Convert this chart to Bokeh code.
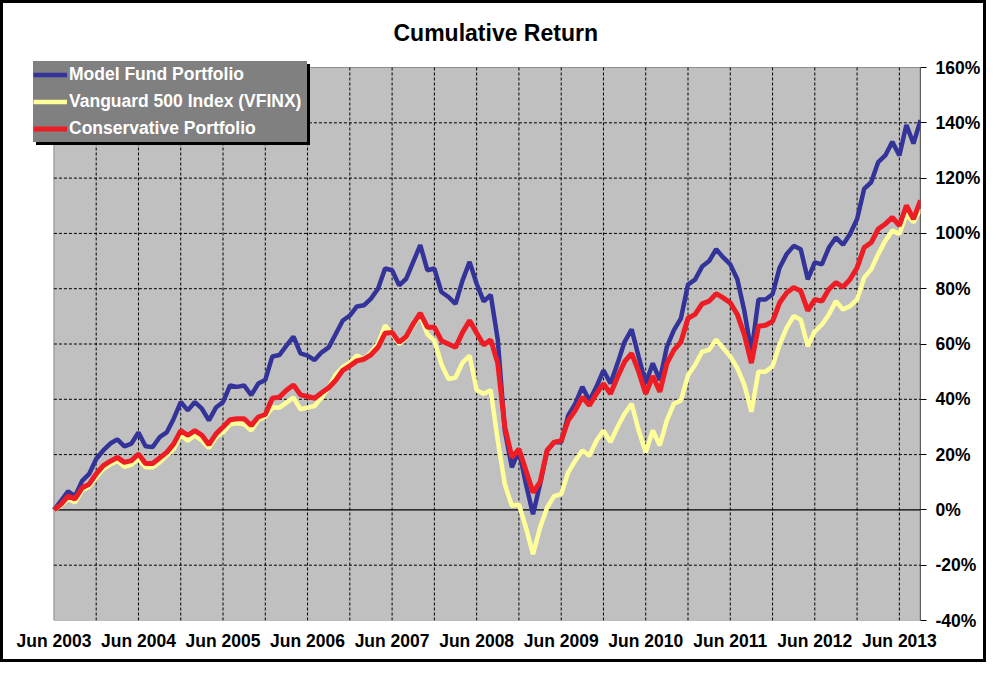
from bokeh.plotting import figure
from bokeh.models import Range1d, FixedTicker, PrintfTickFormatter, Legend, LegendItem
from bokeh.embed import file_html
from bokeh.resources import INLINE

# monthly cumulative return (%), Jun 2003 .. Sep 2013
MODEL = [0, 3.3, 6.7, 5, 10.5, 13, 18.4, 21.5, 24, 25.5, 23, 24, 28, 23, 22.7, 26.3,
         28, 33, 39, 36, 39, 36.6, 32.4, 37, 39, 45, 44.5, 45, 41.5, 45.7, 47,
         55.5, 56, 59.4, 62.7, 56.6, 55.8, 54.2, 57, 58.8, 63.6, 68.5, 70.3, 73.6, 74,
         76.4, 80, 87.3, 86.7, 81.2, 83.6, 89.7, 95.8, 86.7, 87.3, 78.8, 77, 74.5, 83, 89.7,
         81.8, 75.4, 77.8, 61.5, 28.7, 15.4, 21.5, 9.3, -1.6, 9.3, 21.5, 24.5, 24.5, 34.2,
         38.4, 44.5, 39.6, 44.5, 50.5, 45.7, 53, 60.8, 65.3, 55.4, 45.7, 53, 46.9, 59, 65,
         69.3, 81.5, 83.3, 88,
         90, 94.3, 91.3, 88.8, 83.4, 71.9, 57, 76.1, 76.1, 78, 87.6, 92.5, 95.5, 94.3, 83.4,
         89.5, 88.8, 94.9, 98.5, 95.9, 99.8, 105.2, 116.1, 118.5, 125.8, 128.2, 133.1, 128.2,
         139.2, 132.5, 141]
VFINX = [0, 1.5, 4, 2.7, 7, 8.4, 11.8, 14.8, 16.4, 17.8, 15.6, 16.4, 18.4, 15.4, 15.4, 17.2,
         19.6, 22, 27, 25, 27, 25, 22.4, 26.3, 28, 31, 31.4, 31, 28.7, 32.4, 33.6,
         37, 37, 38.8, 40.6, 36.4, 37, 37.6, 40.6, 44.2, 49, 51.7, 53.3, 55.8, 54.5, 57, 60,
         66.7, 63.6, 60, 62.4, 66.7, 70.3, 63.6, 61.2, 52.7, 47.3, 47.9, 53.3, 55.8,
         43.3, 42, 43.3, 25, 9.3, 1.5, 2, -6.4, -16, -6.4, 0.8, 5, 5.7, 13.6, 17.8, 21.5,
         19.6, 25, 28.7, 24.5, 30, 34.8, 38.4, 28.7, 20.8, 28.7, 23.3, 32.4, 38.4, 39.6,
         48.7, 52.4, 57.2,
         57.9, 61.6, 58.5, 55.5, 51.3, 45.2, 35.5, 50, 50, 51.9, 59.8, 65.8, 70.1, 68.8,
         59.2, 64.6, 67, 70.7, 75.5, 72.5, 73.7, 76.1, 84, 87, 92.5, 97.3, 101, 99.8, 107,
         104, 108.8]
CONSERVATIVE = [0, 2, 5, 4, 8, 9.3, 13, 16, 17.6, 19, 17.2, 17.8, 20.2, 16.8, 16.8, 18.8,
                20.8, 23.9, 28.7, 27, 28.7, 27, 23.6, 27.5, 30, 32.6, 33, 33, 30.5, 33.6, 34.5,
                40.4, 40.8, 43.3, 45.2, 41.6, 41, 40.4, 42.4, 44.2, 46.9, 50.5, 52.1, 53.9,
                54.5, 56.1, 58.8, 63.9, 64.2, 60.6, 62.7, 67.3, 71.2, 66.1, 66.1, 61.2, 60,
                58.8, 64.2, 68.5,
                64, 59.6, 61.5, 53, 30, 19, 22, 14.2, 6.3, 10, 21.5, 24.5, 25, 32.4, 36, 40.8,
                37.8, 42, 45.7, 42, 48.1, 53.6, 56.6, 50, 42, 48.4, 42.7, 53, 57.8, 60.8, 69.3,
                70.7, 74.5,
                75.5, 78.2, 76.7, 74.9, 70.7, 63.4, 53.1, 66.4, 66.8, 68.2, 74.9, 78.5, 80.4,
                79.2, 72.1, 76.1, 75.5, 79.8, 82.2, 80.6, 83.4, 87.6, 94.9, 96.7, 101.6, 103.4,
                105.8, 102.8, 110.1, 105.2, 111.9]

TICK_LABELS = ["Jun 2003", "Jun 2004", "Jun 2005", "Jun 2006", "Jun 2007", "Jun 2008",
               "Jun 2009", "Jun 2010", "Jun 2011", "Jun 2012", "Jun 2013"]
Y_TICKS = [-40, -20, 0, 20, 40, 60, 80, 100, 120, 140, 160]

FONT = "Liberation Sans"
months = list(range(len(MODEL)))
last = len(MODEL) - 1
ymin, ymax = Y_TICKS[0], Y_TICKS[-1]

# the frame is a bit wider/taller than the grey plot area so the legend
# can hang over its top-left corner like in the original
p = figure(
    frame_width=887, frame_height=561,
    min_border_left=30, min_border_right=61, min_border_top=56, min_border_bottom=39,
    x_range=Range1d(-2.9, last), y_range=Range1d(ymin, 162.9),
    y_axis_location="right",
    title="Cumulative Return",
    output_backend="svg", toolbar_location=None,
    background_fill_color="white", border_fill_color="white",
    styles={"border": "3px solid black"},
)
p.outline_line_color = None
p.grid.visible = False

p.title.align = "left"
p.title.offset = 360
p.title.vertical_align = "middle"
p.title.standoff = 26
p.title.text_font = FONT
p.title.text_font_size = "23px"
p.title.text_font_style = "bold"
p.title.text_color = "black"

# axes
p.xaxis.ticker = FixedTicker(ticks=list(range(0, 121, 12)))
p.xaxis.major_label_overrides = {i * 12: lab for i, lab in enumerate(TICK_LABELS)}
p.xaxis.axis_line_color = None
p.xaxis.major_tick_line_color = None
p.xaxis.major_tick_out = 0
p.xaxis.minor_tick_line_color = None
p.xaxis.major_label_standoff = 10

p.yaxis.ticker = FixedTicker(ticks=Y_TICKS)
p.yaxis.formatter = PrintfTickFormatter(format="%d%%")
p.yaxis.axis_line_color = None
p.yaxis.major_tick_line_color = "black"
p.yaxis.major_tick_out = 6
p.yaxis.major_tick_in = 0
p.yaxis.minor_tick_line_color = None
p.yaxis.major_label_standoff = 9

for ax in (p.xaxis, p.yaxis):
    ax.major_label_text_font = FONT
    ax.major_label_text_font_size = "17.5px"
    ax.major_label_text_font_style = "bold"
    ax.major_label_text_color = "black"

# grey plot area
p.quad(left=0, right=last, bottom=ymin, top=ymax,
       fill_color="#C0C0C0", line_color="#8C8C8C", line_width=1)

# dashed grid
vgrid = list(range(6, last, 6))
p.segment(x0=vgrid, x1=vgrid, y0=[ymin] * len(vgrid), y1=[ymax] * len(vgrid),
          line_color="black", line_dash="3 2", line_width=1)
hgrid = [t for t in Y_TICKS if t not in (0, ymin, ymax)]
p.segment(x0=[0] * len(hgrid), x1=[last] * len(hgrid), y0=hgrid, y1=hgrid,
          line_color="black", line_dash="3 2", line_width=1)
# zero line and value axis line
p.segment(x0=[0], x1=[last], y0=[0], y1=[0], line_color="black", line_width=1.2)
p.segment(x0=[last], x1=[last], y0=[ymin], y1=[ymax], line_color="black", line_width=1.2)

r_model = p.line(months, MODEL, line_color="#333399", line_width=4.5)
r_vfinx = p.line(months, VFINX, line_color="#FFFF99", line_width=4.5)
r_cons = p.line(months, CONSERVATIVE, line_color="#EE1C25", line_width=5)

names = ["Model Fund Portfolio", "Vanguard 500 Index (VFINX)", "Conservative Portfolio"]
rends = [r_model, r_vfinx, r_cons]


def make_legend(loc, labels, fill):
    lg = Legend(items=[LegendItem(label=t, renderers=[r]) for t, r in zip(labels, rends)],
                location=loc)
    lg.background_fill_color = fill
    lg.background_fill_alpha = 1
    lg.border_line_color = None
    lg.label_text_font = FONT
    lg.label_text_font_size = "17.5px"
    lg.label_text_font_style = "bold"
    lg.label_text_color = "white"
    lg.padding = 1
    lg.margin = 0
    lg.spacing = 0
    lg.glyph_width = 34
    lg.glyph_height = 27
    lg.label_height = 27
    lg.label_width = 238
    lg.label_standoff = 2
    return lg


# drop shadow first, then the legend itself
p.add_layout(make_legend((3, 475), [" "] * 3, "black"))
p.add_layout(make_legend((0, 478), names, "#808080"))

open("out.html", "w").write(file_html(p, INLINE))
